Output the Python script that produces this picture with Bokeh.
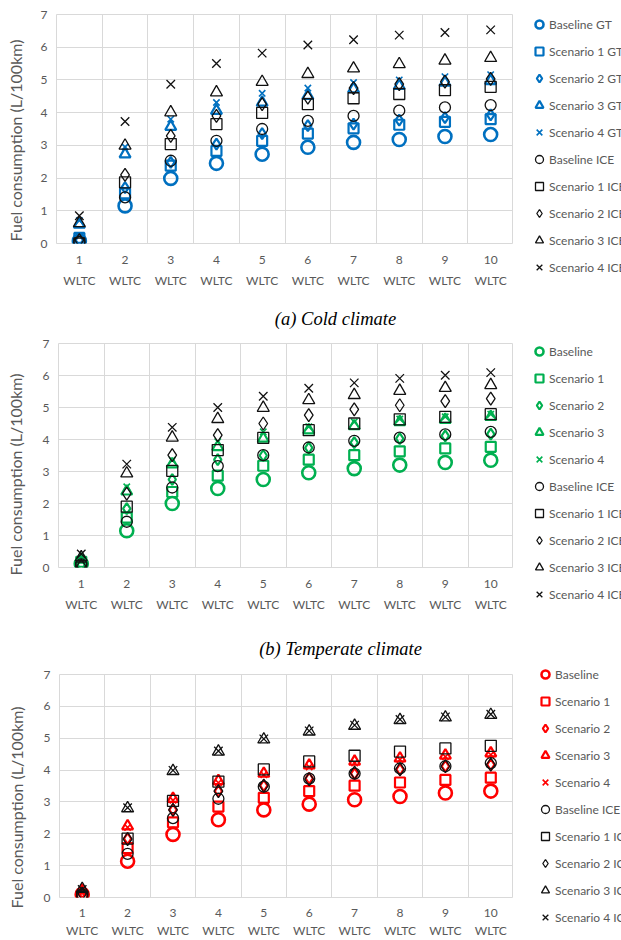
import math
from bokeh.plotting import figure
from bokeh.models import FixedTicker, Legend, LegendItem, Range1d
from bokeh.layouts import column, row
from bokeh.embed import file_html
from bokeh.resources import INLINE
from bokeh.core.properties import value

# ---------------- data ----------------
cycles = [1, 2, 3, 4, 5, 6, 7, 8, 9, 10]
tick_labels = ["1\nWLTC", "2\nWLTC", "3\nWLTC", "4\nWLTC", "5\nWLTC",
               "6\nWLTC", "7\nWLTC", "8\nWLTC", "9\nWLTC", "10\nWLTC"]
y_ticks = [0, 1, 2, 3, 4, 5, 6, 7]

# (a) Cold climate
cold_gt_base = [0.08, 1.15, 1.99, 2.45, 2.73, 2.94, 3.09, 3.18, 3.27, 3.33]
cold_gt_s1 = [0.17, 1.53, 2.38, 2.83, 3.14, 3.36, 3.52, 3.63, 3.72, 3.80]
cold_gt_s2 = [0.10, 1.71, 2.48, 3.04, 3.36, 3.60, 3.65, 3.77, 3.85, 3.93]
cold_gt_s3 = [0.58, 2.73, 3.57, 4.06, 4.31, 4.52, 4.72, 4.82, 4.92, 4.97]
cold_gt_s4 = [0.70, 2.95, 3.80, 4.31, 4.59, 4.75, 4.92, 5.00, 5.10, 5.16]
cold_ice_base = [0.05, 1.41, 2.53, 3.14, 3.50, 3.75, 3.90, 4.06, 4.16, 4.23]
cold_ice_s1 = [0.00, 1.87, 3.04, 3.65, 3.99, 4.26, 4.44, 4.57, 4.69, 4.79]
cold_ice_s2 = [0.10, 2.10, 3.29, 3.90, 4.26, 4.46, 4.75, 4.87, 4.95, 5.03]
cold_ice_s3 = [0.62, 2.99, 4.01, 4.62, 4.94, 5.18, 5.35, 5.48, 5.59, 5.67]
cold_ice_s4 = [0.85, 3.73, 4.87, 5.50, 5.82, 6.07, 6.23, 6.37, 6.45, 6.53]

# (b) Temperate climate
temp_gt_base = [0.12, 1.15, 2.00, 2.47, 2.75, 2.96, 3.09, 3.20, 3.28, 3.35]
temp_gt_s1 = [0.18, 1.56, 2.36, 2.87, 3.18, 3.37, 3.51, 3.63, 3.72, 3.77]
temp_gt_s2 = [0.08, 1.84, 2.75, 3.37, 3.50, 3.74, 3.90, 4.03, 4.11, 4.17]
temp_gt_s3 = [0.25, 2.38, 3.23, 3.77, 4.03, 4.29, 4.42, 4.55, 4.62, 4.71]
temp_gt_s4 = [0.30, 2.52, 3.35, 3.93, 4.24, 4.40, 4.55, 4.64, 4.71, 4.79]
temp_ice_base = [0.10, 1.43, 2.50, 3.17, 3.51, 3.75, 3.96, 4.06, 4.16, 4.24]
temp_ice_s1 = [0.00, 1.90, 3.02, 3.67, 4.05, 4.29, 4.50, 4.63, 4.71, 4.79]
temp_ice_s2 = [0.05, 2.31, 3.51, 4.14, 4.50, 4.76, 4.94, 5.07, 5.20, 5.28]
temp_ice_s3 = [0.32, 2.94, 4.06, 4.64, 4.99, 5.23, 5.39, 5.52, 5.61, 5.70]
temp_ice_s4 = [0.42, 3.23, 4.38, 5.00, 5.35, 5.60, 5.77, 5.91, 6.01, 6.09]

# (c) third climate (partly visible)
hot_gt_base = [0.10, 1.14, 1.98, 2.44, 2.75, 2.93, 3.07, 3.17, 3.28, 3.34]
hot_gt_s1 = [0.05, 1.55, 2.36, 2.85, 3.13, 3.34, 3.51, 3.61, 3.69, 3.76]
hot_gt_s2 = [0.15, 1.85, 2.75, 3.34, 3.51, 3.74, 3.89, 4.02, 4.12, 4.17]
hot_gt_s3 = [0.22, 2.24, 3.10, 3.66, 3.89, 4.15, 4.27, 4.37, 4.46, 4.53]
hot_gt_s4 = [0.20, 2.20, 3.05, 3.60, 3.85, 4.10, 4.22, 4.33, 4.42, 4.48]
hot_ice_base = [0.10, 1.37, 2.49, 3.10, 3.48, 3.73, 3.89, 4.05, 4.12, 4.22]
hot_ice_s1 = [0.02, 1.85, 3.03, 3.64, 4.02, 4.27, 4.45, 4.58, 4.68, 4.76]
hot_ice_s2 = [0.12, 1.83, 2.75, 3.34, 3.51, 3.71, 3.92, 4.02, 4.12, 4.17]
hot_ice_s3 = [0.27, 2.80, 3.97, 4.58, 4.96, 5.21, 5.39, 5.57, 5.65, 5.73]
hot_ice_s4 = [0.25, 2.82, 3.99, 4.60, 4.98, 5.23, 5.41, 5.59, 5.67, 5.75]

names_a = ["Baseline GT", "Scenario 1 GT", "Scenario 2 GT", "Scenario 3 GT", "Scenario 4 GT",
           "Baseline ICE", "Scenario 1 ICE", "Scenario 2 ICE", "Scenario 3 ICE", "Scenario 4 ICE"]
names_bc = ["Baseline", "Scenario 1", "Scenario 2", "Scenario 3", "Scenario 4",
            "Baseline ICE", "Scenario 1 ICE", "Scenario 2 ICE", "Scenario 3 ICE", "Scenario 4 ICE"]
caption_a = "(a) Cold climate"
caption_b = "(b) Temperate climate"
y_title = "Fuel consumption (L/100km)"

# ---------------- styles ----------------
GRID = "#D9D9D9"
TXT = "#595959"
FONT = "Lato"
ICE_COLOR = "#111111"
markers = ["circle", "square", "diamond", "triangle", "x"]
gt_sizes = [13, 10, 11, 11, 9]
gt_lw = [2.6, 2.2, 2.2, 2.2, 1.6]
ice_sizes = [11, 11, 13, 12, 12]
ice_lw = 1.3
NAN = float("nan")
LABEL_W = 30


def blank_fig(width, height):
    f = figure(width=width, height=height, output_backend="svg", toolbar_location=None,
               x_range=Range1d(0, width), y_range=Range1d(0, height),
               min_border=0, min_border_left=0, min_border_right=0,
               min_border_top=0, min_border_bottom=0, frame_align=False)
    f.axis.visible = False
    f.grid.visible = False
    f.outline_line_color = None
    return f


def make_ylabel(height, cx, cy):
    f = blank_fig(LABEL_W, height)
    f.text(x=[cx], y=[height - cy], text=[y_title], angle=math.pi / 2,
           text_font=value(FONT), text_font_size="16px", text_color=TXT,
           text_align="center", text_baseline="middle")
    return f


def make_chart(color, gt, ice, height, mb, label_line_height=1.4, label_standoff=8):
    p = figure(width=513 - LABEL_W, height=height, output_backend="svg",
               toolbar_location=None,
               x_range=Range1d(0.5, 10.5), y_range=Range1d(0, 7),
               min_border_left=mb[0] - LABEL_W, min_border_right=0,
               min_border_top=mb[1], min_border_bottom=mb[2], frame_align=False)
    p.outline_line_color = GRID
    p.background_fill_color = "white"
    p.border_fill_color = "white"

    p.xaxis.ticker = FixedTicker(ticks=cycles)
    p.xaxis.major_label_overrides = {c: t for c, t in zip(cycles, tick_labels)}
    p.yaxis.ticker = FixedTicker(ticks=y_ticks)
    for ax in (p.xaxis[0], p.yaxis[0]):
        ax.axis_line_color = None
        ax.major_tick_line_color = None
        ax.minor_tick_line_color = None
        ax.major_tick_out = 0
        ax.major_tick_in = 0
        ax.major_label_text_font = FONT
        ax.major_label_text_font_size = "12px"
        ax.major_label_text_color = TXT
    p.xaxis.major_label_standoff = label_standoff
    p.xaxis.major_label_text_line_height = label_line_height
    p.yaxis.major_label_standoff = 9

    p.xgrid.ticker = FixedTicker(ticks=[c - 0.5 for c in cycles] + [10.5])
    p.ygrid.ticker = FixedTicker(ticks=y_ticks)
    p.xgrid.grid_line_color = GRID
    p.ygrid.grid_line_color = GRID

    for i, ys in enumerate(gt):
        p.scatter(cycles, ys, marker=markers[i], size=gt_sizes[i],
                  line_color=color, line_width=gt_lw[i], fill_color=None)
    for i, ys in enumerate(ice):
        p.scatter(cycles, ys, marker=markers[i], size=ice_sizes[i],
                  line_color=ICE_COLOR, line_width=ice_lw, fill_color=None)
    return p


def make_legend(color, names, height, loc):
    lf = blank_fig(108, height)
    rends = []
    for i in range(5):
        rends.append(lf.scatter([NAN], [NAN], marker=markers[i], size=8,
                                line_color=color, line_width=gt_lw[i], fill_color=None))
    for i in range(5):
        rends.append(lf.scatter([NAN], [NAN], marker=markers[i], size=8,
                                line_color=ICE_COLOR, line_width=ice_lw, fill_color=None))
    items = [LegendItem(label=n, renderers=[r]) for r, n in zip(rends, names)]
    leg = Legend(items=items, location=loc, orientation="vertical",
                 glyph_width=20, glyph_height=20, label_height=20, spacing=7,
                 padding=0, margin=0, label_standoff=0,
                 label_text_font=FONT, label_text_font_size="12px",
                 label_text_color=TXT, border_line_color=None,
                 background_fill_alpha=0)
    lf.add_layout(leg)
    return lf


def make_caption(text, height, cx, cy):
    c = blank_fig(621, height)
    c.text(x=[cx], y=[height - cy], text=[text], text_font=value("Liberation Serif"),
           text_font_style="italic", text_font_size="18.5px", text_color="#000000",
           text_align="center", text_baseline="middle")
    return c


y1 = make_ylabel(300, 15, 140)
p1 = make_chart("#0070C0",
                [cold_gt_base, cold_gt_s1, cold_gt_s2, cold_gt_s3, cold_gt_s4],
                [cold_ice_base, cold_ice_s1, cold_ice_s2, cold_ice_s3, cold_ice_s4],
                300, (56, 14, 57))
l1 = make_legend("#0070C0", names_a, 300, (16, 23))
c1 = make_caption(caption_a, 35, 335, 18)

y2 = make_ylabel(295, 15, 139)
p2 = make_chart("#00B050",
                [temp_gt_base, temp_gt_s1, temp_gt_s2, temp_gt_s3, temp_gt_s4],
                [temp_ice_base, temp_ice_s1, temp_ice_s2, temp_ice_s3, temp_ice_s4],
                295, (58, 8, 63))
l2 = make_legend("#00B050", names_bc, 295, (16, 26))
c2 = make_caption(caption_b, 30, 340, 18)

y3 = make_ylabel(280, 16, 147)
p3 = make_chart("#FF0000",
                [hot_gt_base, hot_gt_s1, hot_gt_s2, hot_gt_s3, hot_gt_s4],
                [hot_ice_base, hot_ice_s1, hot_ice_s2, hot_ice_s3, hot_ice_s4],
                280, (59, 14, 37), label_line_height=1.2, label_standoff=7)
l3 = make_legend("#FF0000", names_bc, 280, (22, 13))

layout = column(row(y1, p1, l1, spacing=0), c1,
                row(y2, p2, l2, spacing=0), c2,
                row(y3, p3, l3, spacing=0), spacing=0)
open("out.html", "w").write(file_html(layout, INLINE))
